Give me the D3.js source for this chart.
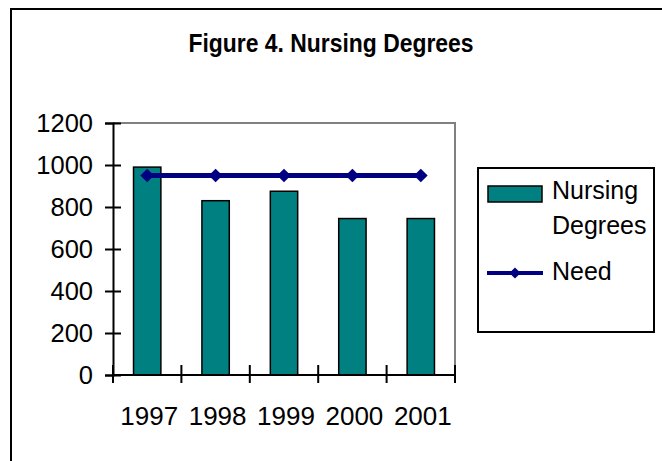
<!DOCTYPE html>
<html>
<head>
<meta charset="utf-8">
<script src="https://cdn.jsdelivr.net/npm/d3@7"></script>
<style>
  body { margin: 0; background: #fff; }
  svg { display: block; font-family: "Liberation Sans", Arial, sans-serif; }
</style>
</head>
<body>
<div id="chart"></div>
<script>
// chart values
var years = ["1997", "1998", "1999", "2000", "2001"];
var degrees = [990, 830, 875, 745, 745];
var need = [950, 950, 950, 950, 950];
var yTicks = [0, 200, 400, 600, 800, 1000, 1200];

var width = 662, height = 461;
var plotLeft = 113, plotRight = 455, plotTop = 123, plotBottom = 375;

var svg = d3.select("#chart").append("svg")
  .attr("width", width)
  .attr("height", height);

// outer frame, runs off the right and bottom edges
svg.append("rect")
  .attr("x", 11).attr("y", 9)
  .attr("width", 700).attr("height", 500)
  .style("fill", "#fff")
  .style("stroke", "#000")
  .style("stroke-width", 2);

svg.append("text")
  .attr("x", 331).attr("y", 52)
  .attr("text-anchor", "middle")
  .attr("textLength", 285)
  .attr("lengthAdjust", "spacingAndGlyphs")
  .style("font-size", "25px")
  .style("font-weight", "bold")
  .text("Figure 4.  Nursing Degrees");

var x = d3.scaleBand()
  .domain(years)
  .range([plotLeft, plotRight])
  .paddingInner(0.6)
  .paddingOuter(0.3);

var edge = d3.scaleLinear().domain([0, years.length]).range([plotLeft, plotRight]);

var y = d3.scaleLinear()
  .domain([0, 1200])
  .range([plotBottom, plotTop]);

// gray top/right of plot area
svg.append("path")
  .attr("d", "M" + plotLeft + "," + y(1200) + "H" + plotRight + "V" + plotBottom)
  .style("fill", "none")
  .style("stroke", "#808080")
  .style("stroke-width", 2);

// bars
svg.append("g").selectAll("rect")
  .data(degrees)
  .enter().append("rect")
  .attr("x", function(d, i) { return x(years[i]); })
  .attr("y", function(d) { return y(d); })
  .attr("width", x.bandwidth())
  .attr("height", function(d) { return y(0) - y(d); })
  .style("fill", "#008080")
  .style("stroke", "#000")
  .style("stroke-width", 1.5);

// y axis
var yAxis = svg.append("g")
  .attr("transform", "translate(" + plotLeft + ",0)")
  .call(d3.axisLeft(y).tickValues(yTicks).tickFormat(d3.format("d")).tickSize(8).tickPadding(12));
yAxis.select(".domain").style("stroke", "#000").style("stroke-width", 2);
yAxis.selectAll(".tick line").attr("x1", 8).style("stroke-width", 2);
yAxis.selectAll(".tick text")
  .style("font-size", "25.5px")
  .style("font-family", "Liberation Sans, Arial, sans-serif")
  .style("fill", "#000");

// x axis line and category ticks
svg.append("line")
  .attr("x1", plotLeft).attr("x2", plotRight)
  .attr("y1", plotBottom).attr("y2", plotBottom)
  .style("stroke", "#000").style("stroke-width", 2);

svg.append("g").selectAll("line")
  .data(d3.range(years.length + 1))
  .enter().append("line")
  .attr("x1", function(d) { return edge(d); })
  .attr("x2", function(d) { return edge(d); })
  .attr("y1", plotBottom - 10).attr("y2", plotBottom + 8)
  .style("stroke", "#000").style("stroke-width", 2);

svg.append("g").selectAll("text")
  .data(years)
  .enter().append("text")
  .attr("x", function(d) { return x(d) + x.bandwidth() / 2 + 2; })
  .attr("y", 425)
  .attr("text-anchor", "middle")
  .style("font-size", "26px")
  .text(function(d) { return d; });

// need line
var line = d3.line()
  .x(function(d, i) { return x(years[i]) + x.bandwidth() / 2; })
  .y(function(d) { return y(d); });

svg.append("path")
  .datum(need)
  .attr("d", line)
  .style("fill", "none")
  .style("stroke", "#000080")
  .style("stroke-width", 5);

var diamond = d3.symbol().type(d3.symbolDiamond2).size(120);
svg.append("g").selectAll("path")
  .data(need)
  .enter().append("path")
  .attr("transform", function(d, i) {
    return "translate(" + (x(years[i]) + x.bandwidth() / 2) + "," + y(d) + ")";
  })
  .attr("d", diamond)
  .style("fill", "#000080");

// legend
var lg = svg.append("g");
lg.append("rect")
  .attr("x", 478).attr("y", 168)
  .attr("width", 176).attr("height", 164)
  .style("fill", "#fff")
  .style("stroke", "#000")
  .style("stroke-width", 2);
lg.append("rect")
  .attr("x", 488).attr("y", 186)
  .attr("width", 54).attr("height", 16)
  .style("fill", "#008080")
  .style("stroke", "#000")
  .style("stroke-width", 1.5);
lg.append("text").attr("x", 552).attr("y", 199).style("font-size", "25px").text("Nursing");
lg.append("text").attr("x", 552).attr("y", 234).style("font-size", "25px").text("Degrees");
lg.append("line")
  .attr("x1", 487).attr("x2", 543)
  .attr("y1", 273).attr("y2", 273)
  .style("stroke", "#000080").style("stroke-width", 4);
lg.append("path")
  .attr("transform", "translate(515,273)")
  .attr("d", d3.symbol().type(d3.symbolDiamond2).size(80))
  .style("fill", "#000080");
lg.append("text").attr("x", 552).attr("y", 280).style("font-size", "25px").text("Need");
</script>
</body>
</html>
